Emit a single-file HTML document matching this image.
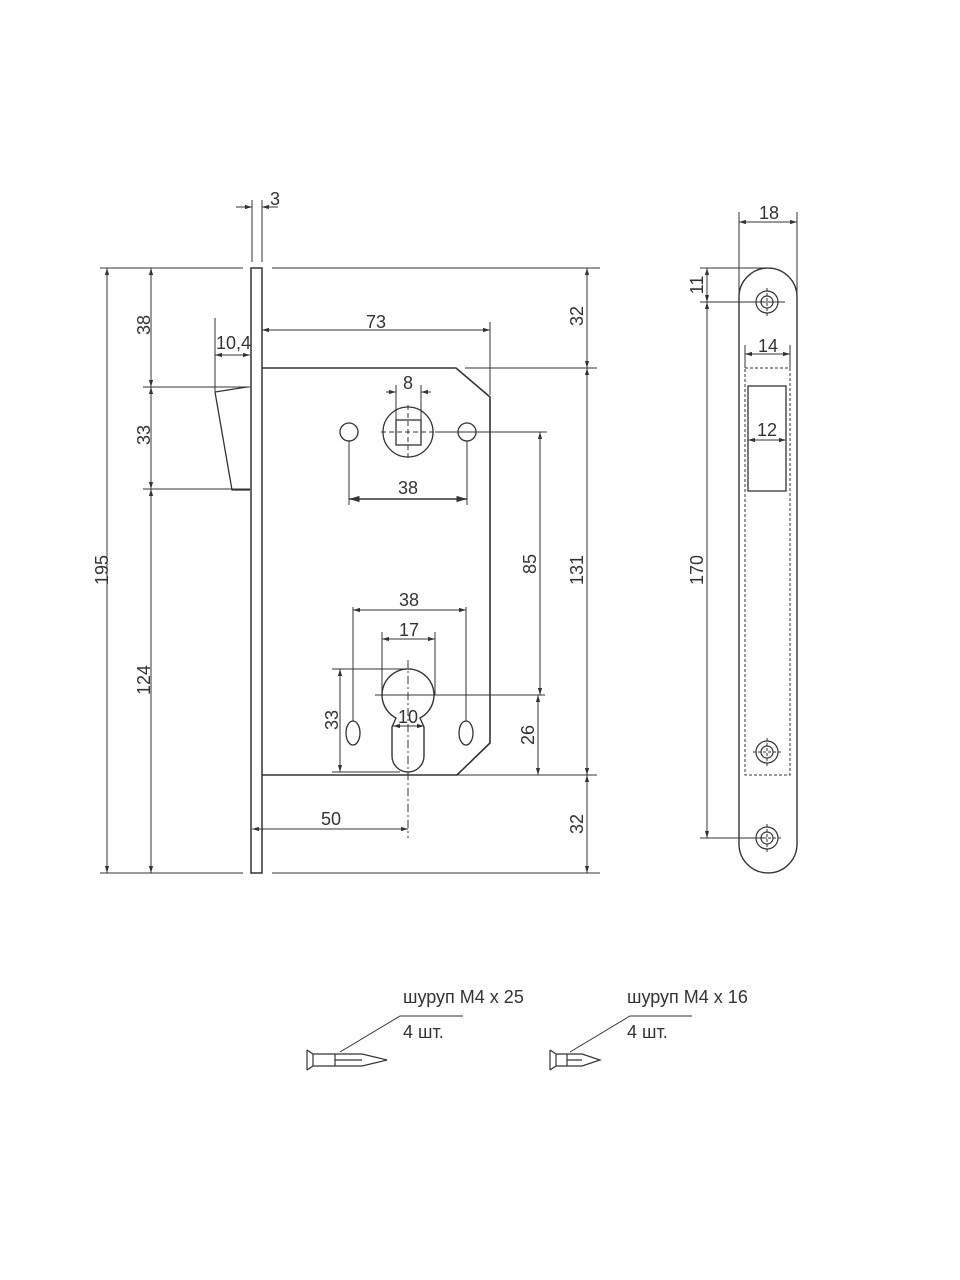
<!DOCTYPE html>
<html><head><meta charset="utf-8"><style>
html,body{margin:0;padding:0;background:#fff}
svg{display:block}
text{font-family:"Liberation Sans",sans-serif;font-size:18px;fill:#333}
</style></head><body>
<svg width="960" height="1280" viewBox="0 0 960 1280" xmlns="http://www.w3.org/2000/svg">
<defs>
<marker id="a" viewBox="0 0 10 10" refX="10" refY="5" markerWidth="7" markerHeight="7" orient="auto-start-reverse"><path d="M0,2 L10,5 L0,8 z" fill="#333"/></marker>
</defs>
<g stroke="#333" fill="none" stroke-width="1">
<line x1="100" y1="268" x2="243" y2="268"/><line x1="272" y1="268" x2="600" y2="268"/>
<line x1="100" y1="873" x2="243" y2="873"/><line x1="272" y1="873" x2="600" y2="873"/>
<rect x="251" y="268" width="11" height="605" stroke-width="1.5"/>
<line x1="252" y1="200" x2="252" y2="262"/><line x1="262" y1="200" x2="262" y2="262"/>
<line x1="236" y1="207" x2="252" y2="207" marker-end="url(#a)"/><line x1="278" y1="207" x2="262" y2="207" marker-end="url(#a)"/>
<line x1="107" y1="268" x2="107" y2="873" marker-start="url(#a)" marker-end="url(#a)"/>
<line x1="151" y1="268" x2="151" y2="387" marker-start="url(#a)" marker-end="url(#a)"/>
<line x1="151" y1="387" x2="151" y2="489" marker-start="url(#a)" marker-end="url(#a)"/>
<line x1="151" y1="489" x2="151" y2="873" marker-start="url(#a)" marker-end="url(#a)"/>
<line x1="143" y1="387" x2="250" y2="387"/><line x1="143" y1="489" x2="250" y2="489"/>
<path d="M215,392 L247,387 M215,392 L232,490 L250,490" stroke-width="1.3"/>
<line x1="215" y1="318" x2="215" y2="392"/>
<line x1="215" y1="355" x2="250" y2="355" marker-start="url(#a)" marker-end="url(#a)"/>
<path d="M262,368 L456,368 L490,397 L490,743 L457,775 L262,775" stroke-width="1.6"/>
<line x1="262" y1="330" x2="490" y2="330" marker-start="url(#a)" marker-end="url(#a)"/>
<line x1="490" y1="322" x2="490" y2="395"/>
<line x1="465" y1="368" x2="597" y2="368"/>
<line x1="457" y1="775" x2="597" y2="775"/>
<line x1="587" y1="268" x2="587" y2="368" marker-start="url(#a)" marker-end="url(#a)"/>
<line x1="587" y1="368" x2="587" y2="775" marker-start="url(#a)" marker-end="url(#a)"/>
<line x1="587" y1="775" x2="587" y2="873" marker-start="url(#a)" marker-end="url(#a)"/>
<circle cx="408" cy="432" r="25" stroke-width="1.3"/>
<rect x="396" y="420" width="25" height="25" stroke-width="1.3"/>
<line x1="408" y1="405" x2="408" y2="460" stroke-dasharray="5,3"/>
<line x1="381" y1="432" x2="435" y2="432" stroke-dasharray="5,3"/>
<line x1="396" y1="385" x2="396" y2="420"/><line x1="421" y1="385" x2="421" y2="420"/>
<line x1="386" y1="392" x2="396" y2="392" marker-end="url(#a)"/><line x1="431" y1="392" x2="421" y2="392" marker-end="url(#a)"/>
<circle cx="349" cy="432" r="9" stroke-width="1.3"/><circle cx="467" cy="432" r="9" stroke-width="1.3"/>
<line x1="435" y1="432" x2="547" y2="432"/>
<line x1="349" y1="441" x2="349" y2="505"/><line x1="467" y1="441" x2="467" y2="505"/>
<line x1="349" y1="499" x2="467" y2="499" marker-start="url(#a)" marker-end="url(#a)" stroke-width="1.5"/>
<line x1="540" y1="432" x2="540" y2="695" marker-start="url(#a)" marker-end="url(#a)"/>
<path d="M396,718 A26,26 0 1 1 420,718 L424,727 L424,756 A16,16 0 0 1 392,756 L392,727 Z" stroke-width="1.4"/>
<line x1="408" y1="660" x2="408" y2="838" stroke-dasharray="8,3,2,3"/>
<line x1="375" y1="695" x2="545" y2="695"/>
<line x1="538" y1="695" x2="538" y2="775" marker-start="url(#a)" marker-end="url(#a)"/>
<line x1="332" y1="669" x2="408" y2="669"/><line x1="332" y1="772" x2="400" y2="772"/>
<line x1="340" y1="669" x2="340" y2="772" marker-start="url(#a)" marker-end="url(#a)"/>
<line x1="393" y1="726" x2="424" y2="726" marker-start="url(#a)" marker-end="url(#a)"/>
<ellipse cx="353" cy="733" rx="7" ry="12" stroke-width="1.3"/><ellipse cx="466" cy="733" rx="7" ry="12" stroke-width="1.3"/>
<line x1="353" y1="607" x2="353" y2="721"/><line x1="466" y1="607" x2="466" y2="721"/>
<line x1="353" y1="610" x2="466" y2="610" marker-start="url(#a)" marker-end="url(#a)"/>
<line x1="382" y1="632" x2="382" y2="695"/><line x1="435" y1="632" x2="435" y2="695"/>
<line x1="382" y1="639" x2="435" y2="639" marker-start="url(#a)" marker-end="url(#a)"/>
<line x1="252" y1="829" x2="408" y2="829" marker-start="url(#a)" marker-end="url(#a)"/>
<path d="M739,297 A29,29 0 0 1 797,297 L797,844 A29,29 0 0 1 739,844 Z" stroke-width="1.4"/>
<line x1="739" y1="212" x2="739" y2="297"/><line x1="797" y1="212" x2="797" y2="297"/>
<line x1="739" y1="222" x2="797" y2="222" marker-start="url(#a)" marker-end="url(#a)"/>
<line x1="700" y1="268" x2="768" y2="268"/><line x1="700" y1="302" x2="785" y2="302"/>
<line x1="707" y1="268" x2="707" y2="302" marker-start="url(#a)" marker-end="url(#a)"/>
<line x1="707" y1="302" x2="707" y2="838" marker-start="url(#a)" marker-end="url(#a)"/>
<line x1="700" y1="838" x2="767" y2="838"/>
<g stroke-width="1.2">
<circle cx="767" cy="302" r="11"/><circle cx="767" cy="302" r="6"/>
<circle cx="767" cy="752" r="11"/><circle cx="767" cy="752" r="6"/>
<circle cx="767" cy="838" r="11"/><circle cx="767" cy="838" r="6"/>
</g>
<line x1="767" y1="288" x2="767" y2="316" stroke-dasharray="3,2"/>
<line x1="767" y1="738" x2="767" y2="766" stroke-dasharray="3,2"/><line x1="753" y1="752" x2="781" y2="752" stroke-dasharray="3,2"/>
<line x1="767" y1="824" x2="767" y2="852" stroke-dasharray="3,2"/><line x1="753" y1="838" x2="781" y2="838" stroke-dasharray="3,2"/>
<rect x="745" y="368" width="45" height="407" stroke-dasharray="3,2"/>
<rect x="748" y="386" width="38" height="105" stroke-width="1.3"/>
<line x1="745" y1="345" x2="745" y2="368"/><line x1="790" y1="345" x2="790" y2="368"/>
<line x1="745" y1="354" x2="790" y2="354" marker-start="url(#a)" marker-end="url(#a)"/>
<line x1="748" y1="440" x2="786" y2="440" marker-start="url(#a)" marker-end="url(#a)"/>
<g stroke-width="1.2">
<path d="M307,1050 L307,1070 M307,1050 L313,1054 L313,1066 L307,1070 M313,1054 L335,1054 L335,1066 L313,1066 M335,1054 L362,1054 L387,1060 L362,1066 L335,1066 M335,1060 L362,1060"/>
<path d="M550,1050 L550,1070 M550,1050 L556,1054 L556,1066 L550,1070 M556,1054 L567,1054 L567,1066 L556,1066 M567,1054 L582,1054 L600,1060 L582,1066 L567,1066 M567,1060 L582,1060"/>
</g>
<path d="M340,1052 L400,1016 L463,1016"/>
<path d="M570,1052 L630,1016 L692,1016"/>
</g>
<g>
<text x="270" y="205">3</text>
<text x="216" y="349">10,4</text>
<text x="376" y="328" text-anchor="middle">73</text>
<text x="408" y="389" text-anchor="middle">8</text>
<text x="408" y="494" text-anchor="middle">38</text>
<text x="409" y="606" text-anchor="middle">38</text>
<text x="409" y="636" text-anchor="middle">17</text>
<text x="408" y="723" text-anchor="middle">10</text>
<text x="331" y="825" text-anchor="middle">50</text>
<text transform="translate(108,570) rotate(-90)" text-anchor="middle">195</text>
<text transform="translate(150,325) rotate(-90)" text-anchor="middle">38</text>
<text transform="translate(150,435) rotate(-90)" text-anchor="middle">33</text>
<text transform="translate(150,680) rotate(-90)" text-anchor="middle">124</text>
<text transform="translate(338,720) rotate(-90)" text-anchor="middle">33</text>
<text transform="translate(536,564) rotate(-90)" text-anchor="middle">85</text>
<text transform="translate(534,735) rotate(-90)" text-anchor="middle">26</text>
<text transform="translate(583,316) rotate(-90)" text-anchor="middle">32</text>
<text transform="translate(583,570) rotate(-90)" text-anchor="middle">131</text>
<text transform="translate(583,824) rotate(-90)" text-anchor="middle">32</text>
<text x="769" y="219" text-anchor="middle">18</text>
<text x="768" y="352" text-anchor="middle">14</text>
<text x="767" y="436" text-anchor="middle">12</text>
<text transform="translate(703,285) rotate(-90)" text-anchor="middle">11</text>
<text transform="translate(703,570) rotate(-90)" text-anchor="middle">170</text>
<text x="403" y="1003" font-size="15">шуруп М4 х 25</text>
<text x="403" y="1038" font-size="15">4 шт.</text>
<text x="627" y="1003" font-size="15">шуруп М4 х 16</text>
<text x="627" y="1038" font-size="15">4 шт.</text>
</g>
</svg>
</body></html>
